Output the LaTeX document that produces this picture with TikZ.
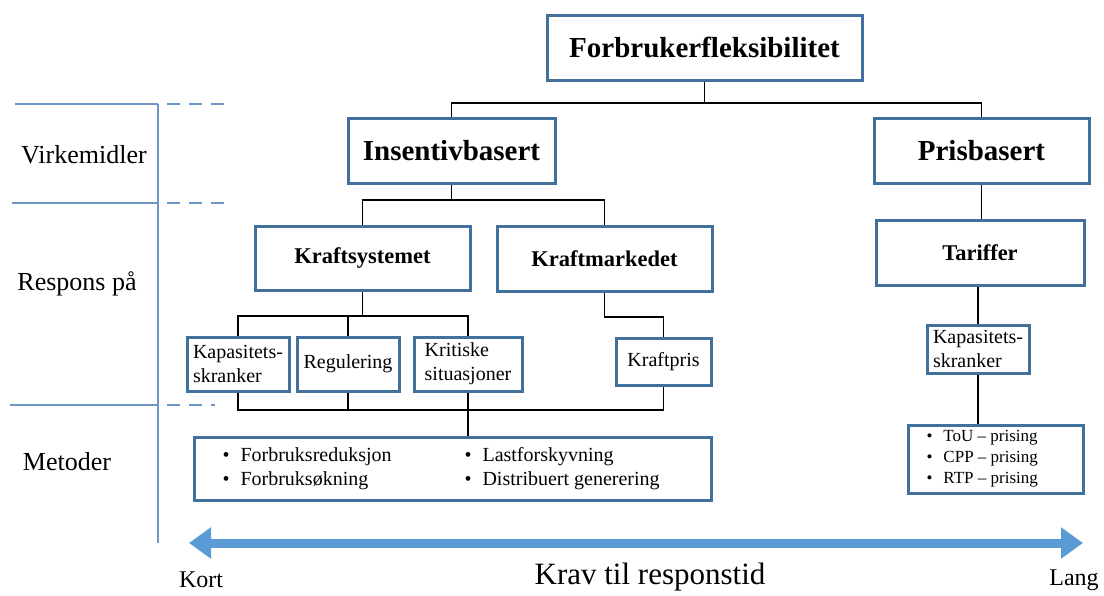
\documentclass[tikz,border=0pt]{standalone}
\usepackage{fontspec}
\setmainfont{Liberation Serif}
\usetikzlibrary{arrows.meta,calc}
\definecolor{boxc}{RGB}{65,113,156}
\definecolor{lanec}{RGB}{110,150,200}
\definecolor{arrowc}{RGB}{91,155,213}
\tikzset{
  box/.style={draw=boxc, line width=3pt, fill=white, inner sep=0pt, text=black, align=center},
  conn/.style={draw=black, line width=1.5pt},
  lane/.style={draw=lanec, line width=2pt},
  lanedash/.style={draw=lanec, line width=2pt, dash pattern=on 13pt off 9pt},
  big/.style={font=\fontsize{29}{32}\selectfont\bfseries},
  mid/.style={font=\fontsize{22.5}{26}\selectfont\bfseries},
  small/.style={font=\fontsize{20}{24}\selectfont},
  tiny/.style={font=\fontsize{17}{21}\selectfont},
  lab/.style={font=\fontsize{26}{30}\selectfont, text=black},
  endlab/.style={font=\fontsize{24}{28}\selectfont, text=black},
}
\begin{document}
\begin{tikzpicture}[x=1pt,y=-1pt]
\useasboundingbox (0,0) rectangle (1104,595);
% lane lines
\coordinate (v1) at (158,104);
\coordinate (v2) at (158,543);
\draw[lane] (v1) -- (v2);
\coordinate (h1a) at (15,104);   \coordinate (h1b) at (228,104);
\coordinate (h2a) at (12,203);   \coordinate (h2b) at (225,203);
\coordinate (h3a) at (10,405);   \coordinate (h3b) at (215,405);
\draw[lane] (h1a) -- (v1);  \draw[lanedash] ($(v1)+(9,0)$) -- (h1b);
\draw[lane] (h2a) -- (158,203) coordinate (c2); \draw[lanedash] ($(c2)+(9,0)$) -- (h2b);
\draw[lane] (h3a) -- (158,405) coordinate (c3); \draw[lanedash] ($(c3)+(9,0)$) -- (h3b);
\node[lab] (l1) at (84,155) {Virkemidler};
\node[lab] (l2) at (77,284) {Respons på};
\node[lab] (l3) at (67,462) {Metoder};

% boxes
\node[box, big, minimum width=315pt, minimum height=65pt] (ff) at (704.5,47.5) {Forbrukerfleksibilitet};
\node[box, big, minimum width=207pt, minimum height=65pt] (ins) at (451.5,150.5) {Insentivbasert};
\node[box, big, minimum width=215pt, minimum height=65pt] (pris) at (981.5,150.5) {Prisbasert};
\node[box, mid, minimum width=215pt, minimum height=64pt] (ks) at (362.5,258) {Kraftsystemet};
\node[box, mid, minimum width=215pt, minimum height=65pt] (km) at (604.5,258.5) {Kraftmarkedet};
\node[box, mid, minimum width=208pt, minimum height=65pt] (tar) at (980,252.5) {Tariffer};
\node[box, small, minimum width=102pt, minimum height=54pt, align=left] (kap) at (238,364) {Kapasitets-\\skranker};
\node[box, small, minimum width=102pt, minimum height=54pt] (reg) at (348,364) {Regulering};
\node[box, small, minimum width=108pt, minimum height=54pt, align=left] (krit) at (468,364) {Kritiske\\situasjoner};
\node[box, small, minimum width=95pt, minimum height=47pt] (kp) at (663.5,361.5) {Kraftpris};
\node[box, small, minimum width=102pt, minimum height=48pt, align=left] (kap2) at (978,349) {Kapasitets-\\skranker};
\node[box, minimum width=517pt, minimum height=63pt] (met) at (452.5,468.5) {};
\node[box, minimum width=175pt, minimum height=68pt] (pr) at (995.5,459) {};

% method texts
\node[small, anchor=west] (b1) at (219,457) {\textbullet\hspace{11pt}Forbruksreduksjon};
\node[small, anchor=west] (b2) at (219,481) {\textbullet\hspace{11pt}Forbruksøkning};
\node[small, anchor=west] (b3) at (461,457) {\textbullet\hspace{11pt}Lastforskyvning};
\node[small, anchor=west] (b4) at (461,481) {\textbullet\hspace{11pt}Distribuert generering};
\node[tiny, anchor=west] (p1) at (923,437.5) {\textbullet\hspace{11pt}ToU – prising};
\node[tiny, anchor=west] (p2) at (923,458.5) {\textbullet\hspace{11pt}CPP – prising};
\node[tiny, anchor=west] (p3) at (923,479.5) {\textbullet\hspace{11pt}RTP – prising};

% connectors
\coordinate (j1) at (704.5,103);
\draw[conn] (ff.south) -- (j1);
\draw[conn] (ins.north) |- (j1) -| (pris.north);
\coordinate (j2) at (451.5,200);
\draw[conn] (ins.south) -- (j2);
\draw[conn] (ks.north) |- (j2) -| (km.north);
\draw[conn] (pris.south |- tar.north) -- (pris.south);
\coordinate (j3) at (362.5,316);
\draw[conn] (ks.south) -- (j3);
\draw[conn] (kap.north) |- (j3) -| (krit.north);
\draw[conn] (reg.north) -- (reg.north |- j3);
\coordinate (j4) at (604.5,317);
\draw[conn] (km.south) -- (j4) -| (kp.north);
\coordinate (j5) at (468,410);
\draw[conn] (kap.south) |- (j5) -| (kp.south);
\draw[conn] (reg.south) -- (reg.south |- j5);
\draw[conn] (krit.south) -- (krit.south |- met.north);
\draw[conn] (tar.south -| kap2.north) -- (kap2.north);
\draw[conn] (kap2.south) -- (kap2.south |- pr.north);

% arrow
\coordinate (aL) at (189,543);
\coordinate (aR) at (1083,543);
\draw[draw=arrowc, line width=9pt, {Triangle[length=22pt,width=30pt]}-{Triangle[length=22pt,width=30pt]}] (aL) -- (aR);
\node[endlab] (kort) at (201,580) {Kort};
\node[endlab] (lang) at (1074,580) {Lang};
\node[font=\fontsize{31}{34}\selectfont] (krav) at (650,577) {Krav til responstid};
\end{tikzpicture}
\end{document}
